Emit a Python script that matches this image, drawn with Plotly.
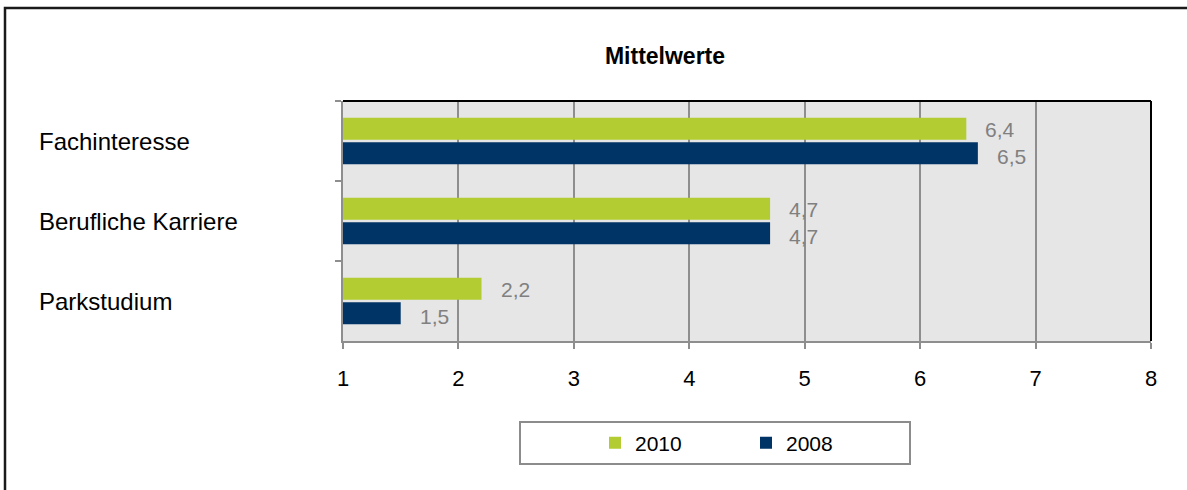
import plotly.graph_objects as go

categories = ["Fachinteresse", "Berufliche Karriere", "Parkstudium"]
series_names = ["2010", "2008"]
values_2010 = [6.4, 4.7, 2.2]
values_2008 = [6.5, 4.7, 1.5]
x_ticks = [1, 2, 3, 4, 5, 6, 7, 8]
title_text = "Mittelwerte"

GREEN = "#b2cc32"
NAVY = "#003366"
GRID = "#8e8e8e"
FONT = "Liberation Sans, Arial, sans-serif"

W, H = 1187, 490
L, R, T, B = 343, 36, 101, 149
pw, ph = W - L - R, H - T - B

def px_x(p):
    return (p - L) / pw

def px_y(p):
    return (H - B - p) / ph

fig = go.Figure()
fig.add_trace(go.Bar(y=categories, x=values_2010, name=series_names[0], orientation="h",
                     marker=dict(color=GREEN, line=dict(width=0)), hoverinfo="x+y"))
fig.add_trace(go.Bar(y=categories, x=values_2008, name=series_names[1], orientation="h",
                     marker=dict(color=NAVY, line=dict(width=0)), hoverinfo="x+y"))

annotations = []
# value labels
for vals, shift in ((values_2010, 11.5), (values_2008, -15.5)):
    for c, v in zip(categories, vals):
        annotations.append(dict(x=v, y=c, xref="x", yref="y", text=f"{v:.1f}".replace(".", ","),
                                showarrow=False, xanchor="left", yanchor="middle", xshift=17, yshift=shift,
                                font=dict(family=FONT, size=21, color="#808080")))
# category labels, left aligned
for c in categories:
    annotations.append(dict(x=px_x(37), y=c, xref="paper", yref="y", text=c, showarrow=False,
                            xanchor="left", yanchor="middle", yshift=0,
                            font=dict(family=FONT, size=24, color="#000000")))

shapes = [
    # outer frame (left + top)
    dict(type="path", xref="paper", yref="paper",
         path=f"M {px_x(5)} {px_y(495)} L {px_x(5)} {px_y(8)} L {px_x(1195)} {px_y(8)}",
         line=dict(color="#1a1a1a", width=2.5)),
    # plot area top and right borders (black)
    dict(type="line", xref="paper", yref="paper", x0=0, x1=1, y0=1, y1=1, line=dict(color="#000000", width=2)),
    dict(type="line", xref="paper", yref="paper", x0=1, x1=1, y0=0, y1=1, line=dict(color="#000000", width=2)),
    # legend box
    dict(type="rect", xref="paper", yref="paper", x0=px_x(520), x1=px_x(910), y0=px_y(464), y1=px_y(422),
         line=dict(color="#8c8c8c", width=2), fillcolor="rgba(0,0,0,0)"),
]

fig.update_layout(
    width=W, height=H,
    margin=dict(l=L, r=R, t=T, b=B),
    paper_bgcolor="white",
    plot_bgcolor="#e6e6e6",
    barmode="group",
    bargap=0.3875,
    bargroupgap=0.1,
    font=dict(family=FONT, size=21, color="#000000"),
    title=dict(text=f"<b>{title_text}</b>", x=665 / W, xref="container", xanchor="center",
               y=1 - 56 / H, yref="container", yanchor="middle",
               font=dict(family=FONT, size=23, color="#000000")),
    xaxis=dict(range=[1, 8], tickvals=x_ticks, ticktext=[str(t) for t in x_ticks],
               showgrid=True, gridcolor=GRID, gridwidth=2, zeroline=False,
               showline=True, linecolor=GRID, linewidth=2,
               ticks="outside", ticklen=6, tickcolor=GRID, tickwidth=2,
               ticklabelstandoff=11,
               tickfont=dict(family=FONT, size=22, color="#000000")),
    yaxis=dict(categoryorder="array", categoryarray=categories, autorange="reversed",
               showticklabels=False, showgrid=False, zeroline=False,
               showline=True, linecolor=GRID, linewidth=2,
               ticks="outside", tickson="boundaries", ticklen=6, tickcolor=GRID, tickwidth=2),
    showlegend=True,
    legend=dict(orientation="h", x=px_x(595), xanchor="left", y=px_y(443), yanchor="middle",
                bgcolor="rgba(0,0,0,0)", borderwidth=0, entrywidth=106, entrywidthmode="pixels",
                font=dict(family=FONT, size=21, color="#000000"), traceorder="normal"),
    annotations=annotations,
    shapes=shapes,
)

fig.write_html("out.html", config={"displayModeBar": False},
               post_script="document.body.style.margin='0';document.body.style.overflow='hidden';")
